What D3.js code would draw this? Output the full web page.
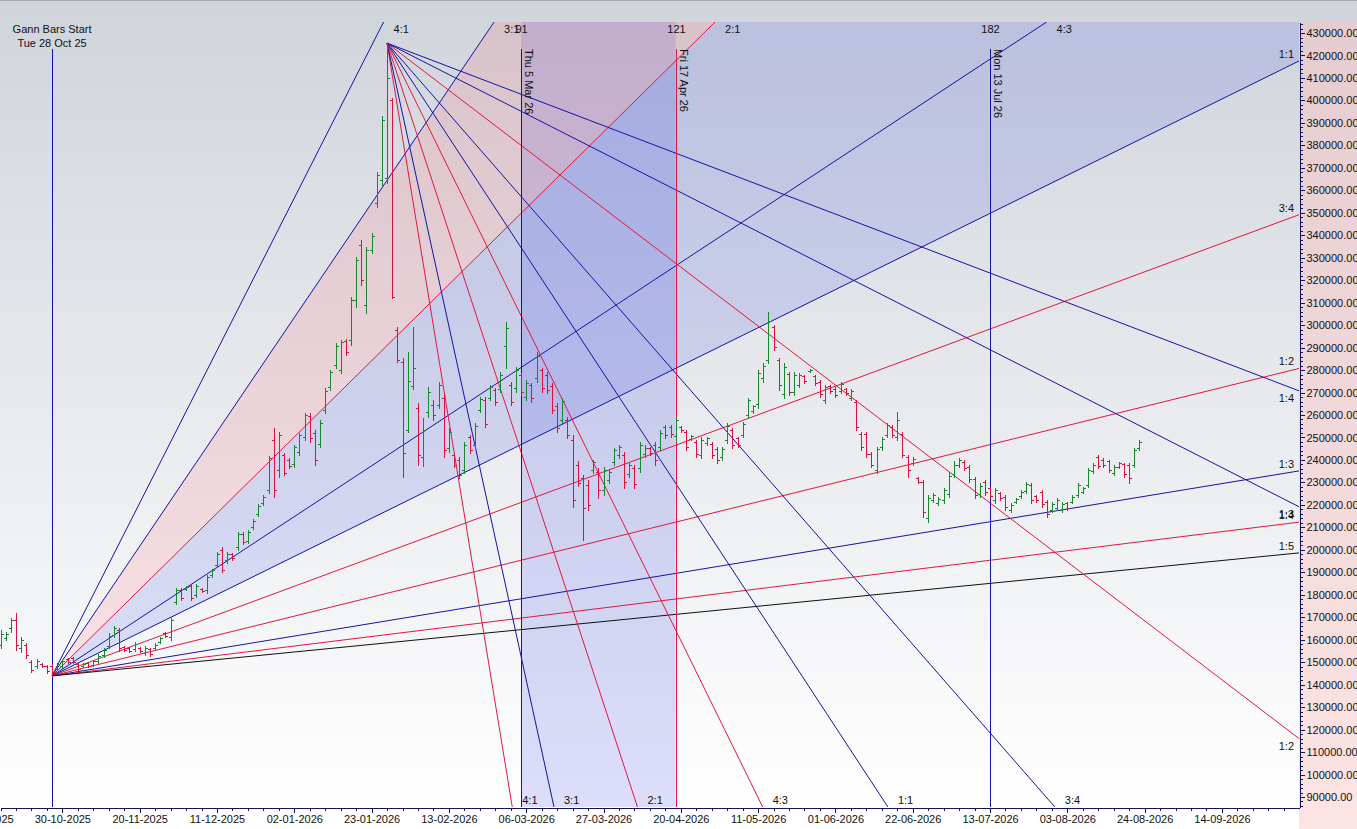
<!DOCTYPE html>
<html><head><meta charset="utf-8">
<script src="https://cdn.jsdelivr.net/npm/d3@7"></script>
<style>
html,body{margin:0;padding:0;background:#fff;overflow:hidden}
svg{display:block}
</style></head><body>
<svg id="chart" width="1357" height="829"></svg>
<script>
// ================= DATA =================
// bar index 0 = Tue 28 Oct 25 (Gann start); bars are trading days
const firstBarIndex = -10;
// [open, high, low, close]
const ohlc = [
[157700,164400,156300,162600],[160800,163500,159900,162600],[165200,169700,163500,168800],[168800,172000,155500,157700],
[156300,161300,154600,159900],[157700,158600,151900,153300],[150100,151000,145700,146600],[148300,151500,147400,150600],
[149200,149700,147900,148300],[148300,148800,145300,146200],[148300,149200,143900,145700],[147000,149700,146600,149200],
[148300,151000,147400,150600],[151500,151900,149700,150100],[151900,152400,149700,150100],[149200,149700,146600,147000],
[148300,149700,147900,149200],[149700,150100,147900,148300],[148800,151000,148300,150600],[150600,153700,149700,152800],
[153300,156300,152400,155500],[157200,163100,156300,161700],[162200,166100,161300,165200],[164400,165200,155100,156300],
[156800,157200,155100,155500],[156300,156800,154600,155100],[155900,159000,155100,158100],[156300,156800,154600,155100],
[154200,157200,153300,156300],[155900,156300,152800,153700],[156300,158600,155900,157700],[159000,161300,158600,160800],
[163100,163500,161300,161700],[161300,169700,159900,168800],[176800,183100,176000,182200],[182200,183100,177700,178600],
[182600,184000,182200,183500],[184000,184800,177700,178600],[179900,184800,179000,184000],[182600,183100,181300,181700],
[182200,188800,180900,188000],[188800,191500,188000,191100],[193300,199100,192400,198200],[200000,201300,190200,191100],
[195500,199100,194200,198200],[198200,198600,195500,196400],[201300,208000,200000,207100],[207100,208000,202600,203500],
[204000,208900,203100,208000],[210200,213700,209300,212800],[216000,220400,215100,219500],[220900,224400,220000,223600],
[226700,241800,225400,240900],[248900,254200,223600,226700],[235600,252500,232500,251200],[242300,243200,233400,234200],
[240000,240900,236500,237400],[238200,246700,236900,245800],[243600,252100,242300,251200],[250300,260900,248900,260100],
[259600,260900,248000,249800],[252100,253400,237800,240000],[247100,257800,245800,256500],[262300,272100,260900,270700],
[272500,280100,271200,279200],[282300,292100,281000,290700],[280100,293400,278700,292500],[293000,293900,286700,288000],
[293400,312500,291200,311200],[311200,330300,308100,329000],[335700,337900,317900,320100],[309000,334800,305400,333500],
[333500,341000,332100,339700],[354400,368200,352600,366800],[364600,393100,362400,391300],[365500,425500,363300,410000],
[400200,401100,312100,312500],[297900,299200,283600,284500],[283600,285400,232500,243100],[253400,288100,252500,275200],
[273000,299200,271600,280900],[263200,265400,237800,242300],[241400,258700,237400,253400],[261400,272500,259100,270300],
[264500,266700,257800,260100],[264500,274700,263200,273400],[267600,268900,241400,244500],[245400,254300,243600,252500],
[242200,243100,236900,237800],[240000,241400,232000,233300],[235600,248000,234200,246700],[250300,251200,243100,244500],
[246700,256500,245400,255200],[262300,268000,261400,267100],[266700,268000,254700,256100],[267600,273400,266700,272500],
[271200,272100,264500,265800],[271600,279200,270300,277800],[290700,301400,281000,298800],[273400,274700,264500,265800],
[272100,281400,270300,280100],[277900,278800,268900,270300],[268000,275600,266700,274300],[273400,274300,265800,267600],
[276500,288100,274700,286300],[280100,281000,270300,272100],[277900,279200,269800,271200],[272900,274300,260900,262300],
[264000,265400,252500,254200],[257800,267600,256500,266300],[257800,259100,249800,251200],[248900,251200,219100,222200],
[237900,239400,228400,229700],[232000,233300,204400,218600],[228900,231100,217800,220000],[235600,240000,234200,239100],
[234700,236500,223100,226700],[226700,236900,224400,235600],[231100,235600,229800,234700],[239100,245400,237800,244500],
[242300,246700,240900,245800],[242300,243600,227600,230200],[233800,238700,232500,237800],[236500,237800,227600,229300],
[236500,248000,234700,246700],[242700,246700,241400,245400],[245400,245800,242300,243200],[246700,248000,237800,240000],
[245800,253400,244500,252100],[254700,255600,249800,251200],[254700,255600,250300,251600],[250700,258700,248900,257800],
[254700,255200,252500,253400],[252500,253400,244500,245800],[249400,251200,248900,250700],[248000,248900,241400,242700],
[242300,250300,240900,248900],[247600,250300,246700,249800],[247100,248000,240900,242300],[244900,245800,238700,240000],
[241400,245800,240000,244900],[248900,256500,247600,255200],[253400,254300,245400,246700],[249800,250300,245800,246700],
[251200,256900,250300,256100],[260100,267600,258700,266700],[261800,264500,260900,264000],[264900,280100,263200,278700],
[276500,283200,274700,281800],[284500,305900,283200,301900],[299200,300100,289000,290300],[284500,285400,271200,273400],
[269400,283200,267600,281400],[278300,279200,268900,270300],[270300,279200,268900,277900],[273400,278800,272500,277900],
[277400,277900,274300,275200],[279600,280500,279200,280100],[277400,277900,273400,274300],[274700,275600,268000,269400],
[266700,273400,265400,272500],[272900,273400,269800,270700],[271600,272500,268000,268900],[270700,274700,269800,273800],
[271600,272100,268900,269800],[267600,271600,266700,270700],[265800,266700,253400,254700],[251600,252500,244500,245800],
[251600,252500,241400,242700],[242700,243600,236900,237800],[235600,245800,234200,244900],[245800,250300,244500,249400],
[251200,256500,250300,255600],[254700,255600,250300,251200],[250300,261400,248900,257800],[251600,252500,241400,242300],
[241400,242300,232500,235600],[238700,241400,237800,240500],[232000,232500,229800,230200],[230200,231100,214600,216900],
[214200,224400,212400,223100],[222200,225300,221300,224400],[220900,223500,220000,222600],[222200,227600,220900,226700],
[224900,234700,223600,232900],[233800,239400,232500,237800],[237800,240900,236900,240000],[239100,240000,235600,236500],
[236900,237800,230200,231600],[231600,232500,223100,224400],[224900,229800,223600,228400],[230200,231100,224400,225800],
[227600,228000,223100,224000],[222200,227600,220900,226700],[225300,225800,222200,223100],[223500,224400,217800,219100],
[217800,220900,216900,220000],[221300,223100,220900,222600],[224000,226700,223100,225800],[226200,230200,225300,229300],
[228900,229800,220900,222200],[224000,224400,221300,222200],[225800,226700,219100,220500],[221300,222200,214600,216000],
[217800,221300,216900,220500],[218600,223100,217800,222200],[217800,221300,216900,220500],[220900,221300,217800,218600],
[221300,224400,220900,223600],[224400,229800,223600,228900],[225800,228000,225300,227600],[228900,236500,228000,235600],
[235100,238700,234200,237800],[241400,242300,236500,237400],[240000,240900,236900,237800],[239600,240000,234700,235600],
[234200,237800,233300,236900],[236900,239100,236500,238700],[238200,238700,232500,233800],[237800,238700,229800,232000],
[237800,245400,236900,244500],[245400,248900,244500,248000]
];

const xTickBars   = [-13, 2, 17, 32, 47, 62, 77, 92, 107, 122, 137, 152, 167, 182, 197, 212, 227];
const xTickLabels = ["09-10-2025","30-10-2025","20-11-2025","11-12-2025","02-01-2026","23-01-2026","13-02-2026",
                     "06-03-2026","27-03-2026","20-04-2026","11-05-2026","01-06-2026","22-06-2026","13-07-2026",
                     "03-08-2026","24-08-2026","14-09-2026"];
const yTickValues = [90000,100000,110000,120000,130000,140000,150000,160000,170000,180000,190000,200000,
                     210000,220000,230000,240000,250000,260000,270000,280000,290000,300000,310000,320000,
                     330000,340000,350000,360000,370000,380000,390000,400000,410000,420000,430000];
const xDomain = [-10.1, 241.95];
const yDomain = [85550, 434900];

const startBar = 0;
const startLabels = ["Gann Bars Start", "Tue 28 Oct 25"];
const markerBars  = [91, 121, 182];
const markerDates = ["Thu 5 Mar 26", "Fri 17 Apr 26", "Mon 13 Jul 26"];
const bandBars    = [91, 121];

const risingPivotBar  = 0;     // fan from the low
const fallingPivotBar = 65;    // fan from the high
const risingUnit  = 1131;      // price per bar for 1:1
const fallingUnit = -3498;
const risingRatios  = ["4:1","3:1","2:1","4:3","1:1","3:4","1:2","1:3","1:4","1:5"];
const fallingRatios = ["4:1","3:1","2:1","4:3","1:1","3:4","1:2","1:3","1:4"];
const risingFills   = [["3:1","2:1"], ["2:1","1:1"]];

// ================= STYLE =================
const COL = {blue:"#1414a4", red:"#e1183e", black:"#111111"};
const risingColors  = ["blue","blue","red","blue","blue","red","red","blue","red","black"];
const fallingColors = ["red","blue","red","red","blue","blue","red","blue","blue"];
const fillColors = ["rgba(255,100,110,0.16)", "rgba(80,90,230,0.17)"];
const markerColors = ["blue","red","blue"];
const upColor = "#17862e", downColor = "#d9143a";
const FONT = "'Liberation Sans', Arial, Helvetica, sans-serif";

// ================= CHART =================
const W = 1357, H = 829;
const P = {l:0, r:1299, t:22, b:807};
const svg = d3.select("#chart").attr("font-family", FONT);
const x = d3.scaleLinear().domain(xDomain).range([P.l, P.r]);
const y = d3.scaleLinear().domain(yDomain).range([P.b, P.t]);

const defs = svg.append("defs");
const g1 = defs.append("linearGradient").attr("id","bgGrad").attr("x1",0).attr("y1",0).attr("x2",0).attr("y2",1);
g1.append("stop").attr("offset",0).attr("stop-color","#d0d4db");
g1.append("stop").attr("offset",1).attr("stop-color","#ffffff");
const g2 = defs.append("linearGradient").attr("id","pinkGrad").attr("x1",0).attr("y1",0).attr("x2",0).attr("y2",1);
g2.append("stop").attr("offset",0).attr("stop-color","#e5ccd0");
g2.append("stop").attr("offset",1).attr("stop-color","#fde4e4");
defs.append("clipPath").attr("id","plotClip").append("rect")
  .attr("x",P.l).attr("y",P.t).attr("width",P.r-P.l).attr("height",P.b-P.t);

svg.append("rect").attr("width",W).attr("height",H).attr("fill","#ffffff");
svg.append("rect").attr("x",0).attr("y",0).attr("width",W).attr("height",P.b).attr("fill","url(#bgGrad)");
svg.append("rect").attr("x",P.r).attr("y",P.t).attr("width",W-P.r).attr("height",H-P.t).attr("fill","url(#pinkGrad)");
svg.append("line").attr("x1",0).attr("x2",W).attr("y1",0.5).attr("y2",0.5).attr("stroke","#a9abae");

const plot = svg.append("g").attr("clip-path","url(#plotClip)");

const bars = ohlc.map((d,i)=>({bar:firstBarIndex+i, o:d[0], h:d[1], l:d[2], c:d[3]}));
const barAt = b => bars[b - firstBarIndex];
const ratioVal = r => { const [a,b] = r.split(":").map(Number); return a/b; };

// vertical band
plot.append("rect")
  .attr("x", x(bandBars[0])).attr("y", P.t)
  .attr("width", x(bandBars[1]) - x(bandBars[0])).attr("height", P.b-P.t)
  .attr("fill","rgba(80,90,230,0.2)");

// fans
const rising  = {bar:risingPivotBar,  price:barAt(risingPivotBar).l,  unit:risingUnit,  ratios:risingRatios,  colors:risingColors};
const falling = {bar:fallingPivotBar, price:barAt(fallingPivotBar).h, unit:fallingUnit, ratios:fallingRatios, colors:fallingColors};
const far = 800;
function farPoint(fan, r){ const s = fan.unit*ratioVal(r); return [x(fan.bar+far), y(fan.price + s*far)]; }

risingFills.forEach((pair,k)=>{
  const o = [x(rising.bar), y(rising.price)];
  const pts = [o, farPoint(rising,pair[0]), farPoint(rising,pair[1])];
  plot.append("path").attr("d","M"+pts.map(p=>p.join(",")).join("L")+"Z").attr("fill",fillColors[k]);
});

const labelLayer = svg.append("g").attr("font-size",11).attr("fill","#111");

function drawFan(fan){
  fan.ratios.forEach((r,k)=>{
    const x0 = x(fan.bar), y0 = y(fan.price);
    const [x1,y1] = farPoint(fan, r);
    plot.append("line").attr("x1",x0).attr("y1",y0).attr("x2",x1).attr("y2",y1)
      .attr("stroke", COL[fan.colors[k]]).attr("stroke-width",1);
    // exit point
    const dx = x1-x0, dy = y1-y0;
    let t = (P.r - x0)/dx, side = "right";
    if (dy < 0) { const tt = (P.t - y0)/dy; if (tt < t) { t = tt; side = "top"; } }
    if (dy > 0) { const tb = (P.b - y0)/dy; if (tb < t) { t = tb; side = "bottom"; } }
    const ex = x0 + dx*t, ey = y0 + dy*t;
    if (side === "top") labelLayer.append("text").attr("x",ex+10).attr("y",32.5).text(r);
    else if (side === "bottom") labelLayer.append("text").attr("x",ex+10).attr("y",804).text(r);
    else labelLayer.append("text").attr("x",P.r-5).attr("y", dy<0 ? ey-3 : ey+11).attr("text-anchor","end").text(r);
  });
}
drawFan(rising);
drawFan(falling);

// vertical lines
const vx = b => Math.round(x(b)) + 0.5;
plot.append("line").attr("x1",vx(startBar)).attr("x2",vx(startBar)).attr("y1",49).attr("y2",P.b)
  .attr("stroke",COL.blue).attr("shape-rendering","crispEdges");
markerBars.forEach((b,k)=>{
  plot.append("line").attr("x1",vx(b)).attr("x2",vx(b)).attr("y1",49).attr("y2",P.b)
    .attr("stroke",COL[markerColors[k]]).attr("shape-rendering","crispEdges");
});

// OHLC bars
const barG = plot.append("g").attr("shape-rendering","crispEdges").attr("fill","none");
bars.forEach(d=>{
  const px = Math.round(x(d.bar)) + 0.5;
  const yo = Math.round(y(d.o))+0.5, yc = Math.round(y(d.c))+0.5;
  const path = `M${px},${Math.round(y(d.h))}V${Math.round(y(d.l))+1}M${px-2.5},${yo}H${px}M${px},${yc}H${px+2.5}`;
  barG.append("path").attr("d",path).attr("stroke", d.c >= d.o ? upColor : downColor).attr("stroke-width",1);
});

// labels: start + markers
labelLayer.append("text").attr("x",x(startBar)).attr("y",32.5).attr("text-anchor","middle").text(startLabels[0]);
labelLayer.append("text").attr("x",x(startBar)).attr("y",46.5).attr("text-anchor","middle").text(startLabels[1]);
markerBars.forEach((b,k)=>{
  labelLayer.append("text").attr("x",vx(b)).attr("y",32.5).attr("text-anchor","middle").text(String(b-startBar));
  labelLayer.append("text").attr("transform",`translate(${vx(b)+3.5},49) rotate(90)`).text(markerDates[k]);
});

// axes
const axisColor = "#14145a";
const yAxis = svg.append("g").attr("transform",`translate(${P.r+0.5},0)`)
  .call(d3.axisRight(y).tickValues(yTickValues).tickSize(5).tickSizeOuter(0).tickPadding(2).tickFormat(d=>d.toFixed(2)));
const minorY = d3.range(86000, 434001, 2000).filter(v=>v%10000!==0);
svg.append("g").attr("transform",`translate(${P.r+0.5},0)`)
  .call(d3.axisRight(y).tickValues(minorY).tickSize(3).tickFormat(""))
  .call(g=>g.select(".domain").remove());
const xAxis = svg.append("g").attr("transform",`translate(0,${P.b+0.5})`)
  .call(d3.axisBottom(x).tickValues(xTickBars).tickSize(5).tickSizeOuter(0).tickPadding(3).tickFormat((d,i)=>xTickLabels[i]));
const minorX = d3.range(-10, 242, 3).filter(b=>!xTickBars.includes(b));
svg.append("g").attr("transform",`translate(0,${P.b+0.5})`)
  .call(d3.axisBottom(x).tickValues(minorX).tickSize(3).tickFormat(""))
  .call(g=>g.select(".domain").remove());
svg.selectAll(".domain, .tick line").attr("stroke",axisColor).attr("shape-rendering","crispEdges");
[yAxis,xAxis].forEach(a=>a.attr("font-family",FONT).attr("font-size",11).selectAll("text").attr("fill","#111"));
</script>
</body></html>
